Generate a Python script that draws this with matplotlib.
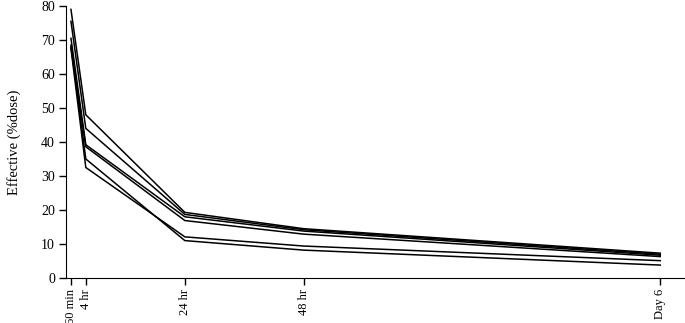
import matplotlib
matplotlib.use("Agg")
import matplotlib.pyplot as plt

# time points (hours) and their labels
hours = [1, 4, 24, 48, 120]
time_labels = ["60 min", "4 hr", "24 hr", "48 hr", "Day 6"]

# effective dose (%) for each subject
s1 = [79.0, 48.0, 19.3, 14.5, 7.3]
s2 = [75.5, 44.0, 18.7, 14.2, 7.0]
s3 = [70.5, 39.2, 18.0, 13.8, 6.7]
s4 = [68.0, 38.6, 16.9, 12.9, 6.3]
s5 = [68.5, 35.0, 11.0, 8.2, 3.8]
s6 = [67.5, 32.5, 12.1, 9.4, 5.1]
series = [s1, s2, s3, s4, s5, s6]

plt.rcParams["font.family"] = ["Liberation Serif", "DejaVu Serif"]
plt.rcParams["font.size"] = 10

fig = plt.figure(figsize=(6.85, 3.23), dpi=100)
ax = fig.add_axes([66 / 685, 45 / 323, 1 - 66 / 685, 272 / 323])

for s in series:
    ax.plot(hours, s, color="black", linewidth=1.1)

ax.set_xlim(0, 125)
ax.set_ylim(0, 80)
ax.set_yticks(range(0, 81, 10))
ax.set_xticks(hours)
ax.set_xticklabels(time_labels, rotation=90)
ax.set_ylabel("Effective (%dose)", fontsize=10.5)
ax.yaxis.set_label_coords(-0.072, 0.5)

ax.spines["top"].set_visible(False)
ax.spines["right"].set_visible(False)
ax.tick_params(direction="out", length=5, width=1, pad=3)
ax.tick_params(axis="x", labelsize=9)

fig.savefig("out.png", dpi=100)
